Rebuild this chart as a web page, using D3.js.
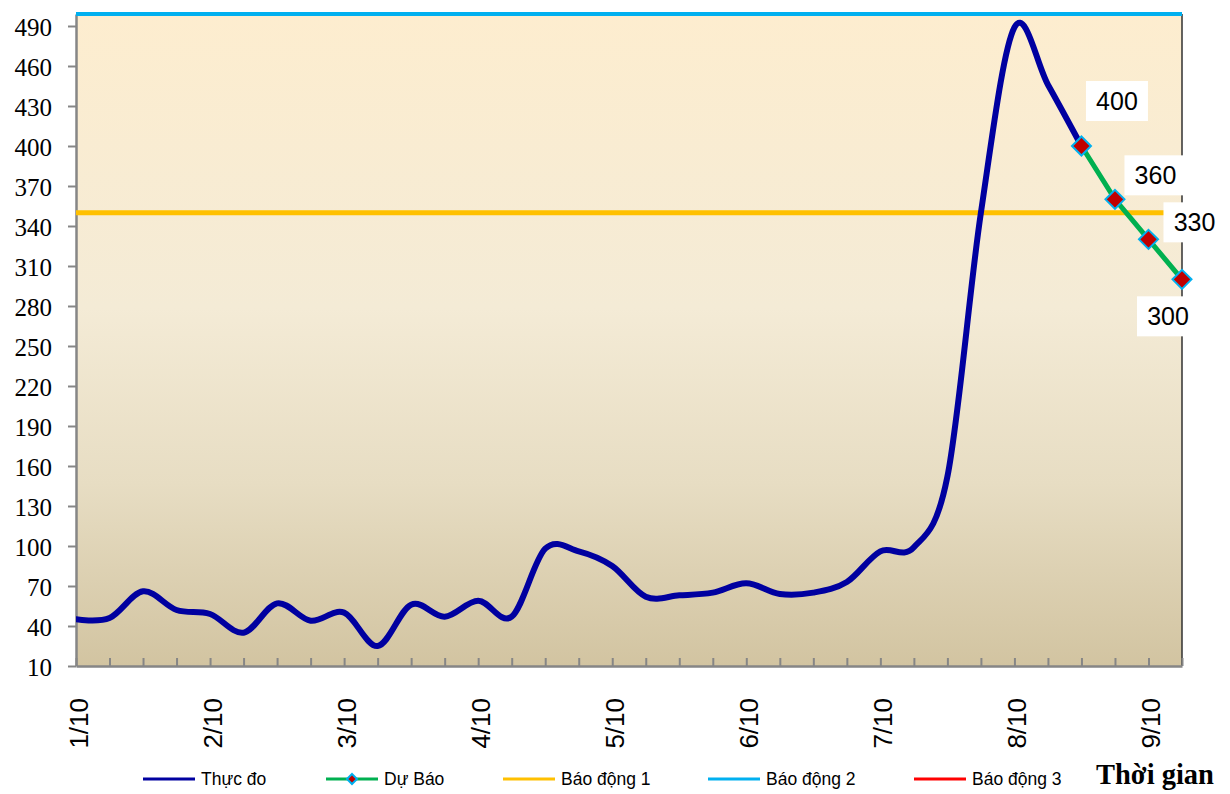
<!DOCTYPE html>
<html>
<head>
<meta charset="utf-8">
<script src="https://cdn.jsdelivr.net/npm/d3@7"></script>
<style>
  html, body { margin: 0; padding: 0; background: #ffffff; }
  svg { display: block; }
</style>
</head>
<body>
<svg id="chart" width="1230" height="794"></svg>
<script>
// ---- DATA ----
const xTickLabels = ["1/10", "2/10", "3/10", "4/10", "5/10", "6/10", "7/10", "8/10", "9/10"];
const yTickValues = [10, 40, 70, 100, 130, 160, 190, 220, 250, 280, 310, 340, 370, 400, 430, 460, 490];
// 6-hourly measured water level (index 0 = 1/10 00h)
const measured = [45, 46, 66, 52, 49, 35, 57, 44, 50, 25, 56, 47, 59, 47, 98, 96, 85, 62, 63, 65, 72, 64, 65, 73, 96, 99, 152, 350, 489, 446, 400];
// forecast, starting at index 30
const forecastStart = 30;
const forecast = [400, 360, 330, 300];
const alarm1 = 350;
const alarm2 = 499;
const alarm3 = 600;
const legendNames = ["Thực đo", "Dự Báo", "Báo động 1", "Báo động 2", "Báo động 3"];
const axisTitle = "Thời gian";

// ---- LAYOUT ----
const svg = d3.select("#chart");
const L = 76, R = 1182, T = 14, B = 666;
const nSteps = measured.length - 1 + forecast.length - 1; // 33
const x = d3.scaleLinear().domain([0, nSteps]).range([L, R]);
const y = d3.scaleLinear().domain([10, 499]).range([B, T]);

const colors = {
  measured: "#0000A0", forecast: "#00B050", alarm1: "#FFC000",
  alarm2: "#00B0F0", alarm3: "#FF0000", marker: "#C00000"
};

// background gradient
const defs = svg.append("defs");
const grad = defs.append("linearGradient").attr("id", "bg").attr("x1", 0).attr("y1", 0).attr("x2", 0).attr("y2", 1);
[[0, "#FDEDCF"], [0.45, "#F4EBD6"], [0.72, "#E7DDC3"], [1, "#D2C4A1"]].forEach(([o, c]) =>
  grad.append("stop").attr("offset", o).attr("stop-color", c));
defs.append("clipPath").attr("id", "clip").append("rect").attr("x", L).attr("y", T - 3).attr("width", R - L).attr("height", B - T + 3);

svg.append("rect").attr("x", L).attr("y", T).attr("width", R - L).attr("height", B - T).attr("fill", "url(#bg)");

// right border
svg.append("line").attr("x1", R).attr("x2", R).attr("y1", T).attr("y2", B).attr("stroke", "#303030").attr("stroke-width", 1.5);

// y axis
const yAxis = d3.axisLeft(y).tickValues(yTickValues).tickSize(8).tickSizeOuter(0).tickPadding(16);
const gy = svg.append("g").attr("transform", `translate(${L},0)`).call(yAxis);
gy.select(".domain").attr("stroke", "#868686").attr("stroke-width", 2.5);
gy.selectAll(".tick line").attr("stroke", "#868686").attr("stroke-width", 2);
gy.selectAll(".tick text").attr("font-family", "'Liberation Serif', 'Times New Roman', serif")
  .attr("font-size", 25).attr("fill", "#000").attr("dy", "0.36em");

// x axis: ticks inside, every step; labels every 4 steps
const xAxis = d3.axisBottom(x).tickValues(d3.range(0, nSteps + 1)).tickSize(-8).tickSizeOuter(0).tickFormat("");
const gx = svg.append("g").attr("transform", `translate(0,${B})`).call(xAxis);
gx.select(".domain").attr("stroke", "#868686").attr("stroke-width", 2.5);
gx.selectAll(".tick line").attr("stroke", "#868686").attr("stroke-width", 2);

svg.append("g").selectAll("text").data(xTickLabels).join("text")
  .attr("transform", (d, i) => `translate(${x(i * 4) + 12},${B + 32}) rotate(-90)`)
  .attr("text-anchor", "end")
  .attr("font-family", "'Liberation Sans', Arial, sans-serif")
  .attr("font-size", 26).attr("fill", "#000")
  .text(d => d);

// plot content
const plot = svg.append("g").attr("clip-path", "url(#clip)");

const hline = (v, c, w) => plot.append("line").attr("x1", L).attr("x2", R)
  .attr("y1", y(v)).attr("y2", y(v)).attr("stroke", c).attr("stroke-width", w);
hline(alarm3, colors.alarm3, 4);
hline(alarm1, colors.alarm1, 5);
hline(alarm2, colors.alarm2, 4);

const line = d3.line().x(d => x(d[0])).y(d => y(d[1])).curve(d3.curveCatmullRom.alpha(0));
plot.append("path").datum(measured.map((v, i) => [i, v]))
  .attr("d", line).attr("fill", "none").attr("stroke", colors.measured)
  .attr("stroke-width", 6).attr("stroke-linejoin", "round").attr("stroke-linecap", "round");

const fData = forecast.map((v, i) => [forecastStart + i, v]);
svg.append("path").datum(fData)
  .attr("d", d3.line().x(d => x(d[0])).y(d => y(d[1])))
  .attr("fill", "none").attr("stroke", colors.forecast).attr("stroke-width", 5);

const diamond = (cx, cy, r) => `M${cx},${cy - r}L${cx + r},${cy}L${cx},${cy + r}L${cx - r},${cy}Z`;
svg.append("g").selectAll("path").data(fData).join("path")
  .attr("d", d => diamond(x(d[0]), y(d[1]), 9.5))
  .attr("fill", colors.marker).attr("stroke", colors.alarm2).attr("stroke-width", 2);

// data labels
const labelOffsets = [[35.5, -45], [40.5, -24], [46, -17], [-14, 37]];
const lg = svg.append("g");
fData.forEach((d, i) => {
  const cx = x(d[0]) + labelOffsets[i][0], cy = y(d[1]) + labelOffsets[i][1];
  lg.append("rect").attr("x", cx - 31).attr("y", cy - 20).attr("width", 62).attr("height", 40).attr("fill", "#fff");
  lg.append("text").attr("x", cx).attr("y", cy + 9).attr("text-anchor", "middle")
    .attr("font-family", "'Liberation Sans', Arial, sans-serif").attr("font-size", 25).attr("fill", "#000")
    .text(d[1]);
});

// legend
const legendX = [143, 326, 503, 708, 914];
const legendColors = [colors.measured, colors.forecast, colors.alarm1, colors.alarm2, colors.alarm3];
const leg = svg.append("g");
legendNames.forEach((name, i) => {
  const lx = legendX[i];
  leg.append("line").attr("x1", lx).attr("x2", lx + 52).attr("y1", 779).attr("y2", 779)
    .attr("stroke", legendColors[i]).attr("stroke-width", 3);
  if (i === 1) {
    leg.append("path").attr("d", diamond(lx + 26, 779, 5)).attr("fill", colors.marker)
      .attr("stroke", colors.alarm2).attr("stroke-width", 2);
  }
  leg.append("text").attr("x", lx + 58).attr("y", 785)
    .attr("font-family", "'Liberation Sans', Arial, sans-serif").attr("font-size", 17.5).attr("fill", "#000")
    .text(name);
});

svg.append("text").attr("x", 1096).attr("y", 784)
  .attr("font-family", "'Liberation Serif', 'Times New Roman', serif").attr("font-weight", "bold")
  .attr("font-size", 28.5).attr("fill", "#000").text(axisTitle);
</script>
</body>
</html>
